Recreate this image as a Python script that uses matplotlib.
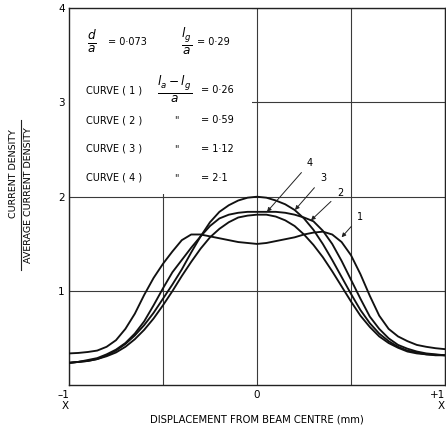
import numpy as np
import matplotlib
matplotlib.use('Agg')
import matplotlib.pyplot as plt
from matplotlib.patches import Rectangle
from matplotlib.lines import Line2D

# displacement from beam centre in steps of 0.05
x = [-1.0, -0.95, -0.9, -0.85, -0.8, -0.75, -0.7, -0.65, -0.6, -0.55, -0.5,
     -0.45, -0.4, -0.35, -0.3, -0.25, -0.2, -0.15, -0.1, -0.05, 0.0,
     0.05, 0.1, 0.15, 0.2, 0.25, 0.3, 0.35, 0.4, 0.45, 0.5,
     0.55, 0.6, 0.65, 0.7, 0.75, 0.8, 0.85, 0.9, 0.95, 1.0]

curve1 = [0.34, 0.345, 0.355, 0.37, 0.41, 0.48, 0.6, 0.76, 0.96, 1.14, 1.29,
          1.42, 1.54, 1.6, 1.6, 1.58, 1.56, 1.54, 1.52, 1.51, 1.5,
          1.51, 1.53, 1.55, 1.57, 1.6, 1.62, 1.63, 1.6, 1.52, 1.38,
          1.18, 0.95, 0.74, 0.6, 0.52, 0.47, 0.43, 0.41, 0.395, 0.385]

curve2 = [0.24, 0.25, 0.27, 0.29, 0.33, 0.38, 0.45, 0.55, 0.68, 0.85, 1.03,
          1.2, 1.33, 1.46, 1.58, 1.69, 1.77, 1.81, 1.83, 1.84, 1.84,
          1.84, 1.84, 1.83, 1.81, 1.78, 1.74, 1.64, 1.5, 1.32, 1.12,
          0.92, 0.73, 0.6, 0.5, 0.43, 0.39, 0.36, 0.34, 0.33, 0.32]

curve3 = [0.24, 0.25, 0.26, 0.28, 0.32, 0.37, 0.44, 0.53, 0.64, 0.77, 0.92,
          1.07, 1.23, 1.41, 1.58, 1.73, 1.84, 1.91, 1.96, 1.99, 2.0,
          1.99, 1.96, 1.92, 1.86, 1.77, 1.65, 1.5, 1.33, 1.15, 0.97,
          0.8, 0.66, 0.55, 0.47, 0.41, 0.37, 0.35, 0.33, 0.325, 0.32]

curve4 = [0.24, 0.25, 0.26, 0.28, 0.31, 0.35, 0.41, 0.49, 0.59, 0.71, 0.85,
          1.0, 1.16, 1.31, 1.45, 1.57, 1.66, 1.73, 1.78, 1.8, 1.81,
          1.81, 1.79, 1.75, 1.69, 1.6, 1.49, 1.36, 1.21, 1.05, 0.89,
          0.74, 0.62, 0.52, 0.45, 0.4, 0.36, 0.34, 0.33, 0.32, 0.32]

curves = [curve1, curve2, curve3, curve4]
curve_names = ['1', '2', '3', '4']
ratios = ['0·26', '0·59', '1·12', '2·1']

fig = plt.figure(figsize=(4.46, 4.29), dpi=100)
ax = fig.add_axes([0.1547, 0.1014, 0.8431, 0.8800])

ax.set_xlim(-1, 1)
ax.set_ylim(0, 4)
ax.set_axisbelow(True)
ax.set_xticks([-0.5, 0, 0.5], minor=True)
ax.grid(True, which='both', color='#3a3a3a', lw=0.8)
for s in ax.spines.values():
    s.set_linewidth(1.0)
    s.set_color('#222222')

# blank area behind the text block
ax.add_patch(Rectangle((-1, 2.03), 0.975, 1.97, facecolor='white',
                       edgecolor='none', zorder=1))

for c in curves:
    ax.plot(x, c, color='#111111', lw=1.35, zorder=3)

# ticks
ax.set_yticks([1, 2, 3, 4])
ax.set_yticklabels(['1', '2', '3', '4'])
ax.set_xticks([-1, 0, 1])
ax.set_xticklabels(['–1\nX', '0', '+1\nX'])
ax.tick_params(length=0, labelsize=7.5, pad=3)
ax.tick_params(axis='x', which='minor', length=0)
ax.get_xticklabels()[0].set_ha('right')
ax.get_xticklabels()[0].set_multialignment('right')
ax.get_xticklabels()[2].set_ha('right')
ax.get_xticklabels()[2].set_multialignment('right')

ax.set_xlabel('DISPLACEMENT FROM BEAM CENTRE (mm)', fontsize=7.2, labelpad=2)

# y label as a fraction
fig.text(0.031, 0.595, 'CURRENT DENSITY', rotation=90, fontsize=6.8,
         ha='center', va='center')
fig.text(0.064, 0.545, 'AVERAGE CURRENT DENSITY', rotation=90, fontsize=6.8,
         ha='center', va='center')
fig.add_artist(Line2D([0.046, 0.046], [0.37, 0.72], color='#222222', lw=0.8))

# text block
tk = dict(fontsize=7, va='center', zorder=4)
ax.text(-0.88, 3.64, r'$\frac{d}{a}$', fontsize=12.5, ha='center', va='center')
ax.text(-0.79, 3.64, '= 0·073', ha='left', **tk)
ax.text(-0.375, 3.64, r'$\frac{l_g}{a}$', fontsize=12.5, ha='center', va='center')
ax.text(-0.32, 3.64, '= 0·29', ha='left', **tk)
rows = [3.13, 2.81, 2.51, 2.2]
for i in range(4):
    ax.text(-0.91, rows[i], 'CURVE ( %s )' % curve_names[i], ha='left', **tk)
    ax.text(-0.30, rows[i], '= ' + ratios[i], ha='left', **tk)
    if i > 0:
        ax.text(-0.43, rows[i], '"', ha='center', **tk)
ax.text(-0.44, rows[0], r'$\frac{l_a - l_g}{a}$', fontsize=12.5,
        ha='center', va='center')

# curve labels
lab_pos = [(0.548, 1.79), (0.441, 2.04), (0.351, 2.2), (0.282, 2.36)]
tips = [(0.45, 1.57), (0.287, 1.75), (0.202, 1.86), (0.053, 1.84)]
for i in range(4):
    ax.annotate(curve_names[i], xy=tips[i], xytext=lab_pos[i], fontsize=7,
                ha='center', va='center',
                arrowprops=dict(arrowstyle='-|>', color='#222222', lw=0.7,
                                mutation_scale=6, shrinkA=3, shrinkB=0))

plt.savefig('out.png', dpi=100)
